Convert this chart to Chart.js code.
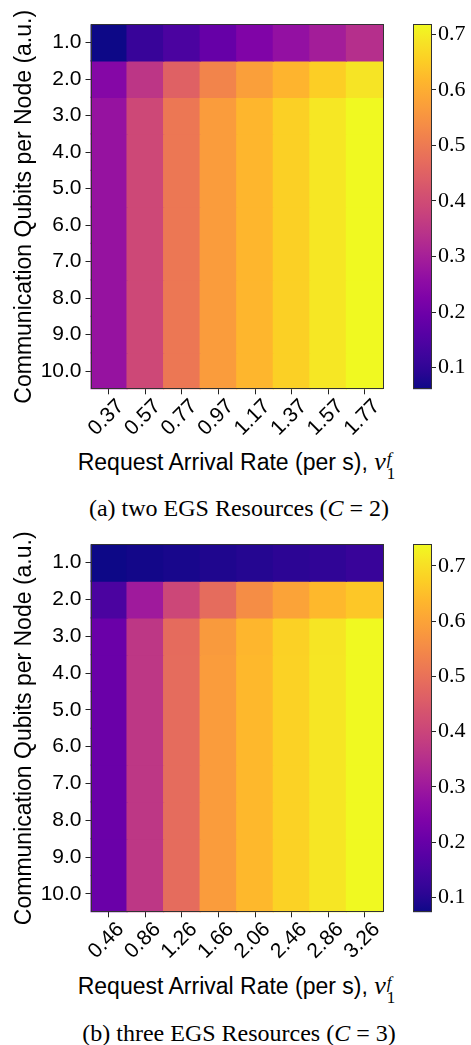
<!DOCTYPE html>
<html><head><meta charset="utf-8">
<script src="https://cdn.jsdelivr.net/npm/chart.js@4.4.1/dist/chart.umd.min.js"></script>
<style>
html,body{margin:0;padding:0;background:#fff;width:471px;height:1045px;overflow:hidden;position:relative}
canvas{position:absolute}
.xtitle{position:absolute;left:0;width:473px;text-align:center;font-family:'Liberation Sans',sans-serif;font-size:23px;line-height:28px;color:#000;white-space:nowrap}
.nu{font-family:'Liberation Serif',serif;font-style:italic;font-size:26px}
.ss{display:inline-block;vertical-align:-0.5em;line-height:0.85;font-family:'Liberation Serif',serif;font-size:17px;text-align:left;margin-left:1px}
.ss span{display:block}
.cap{position:absolute;left:0;width:478px;text-align:center;font-family:'Liberation Serif',serif;font-size:24px;line-height:28px;color:#000;white-space:nowrap}
</style></head><body>
<canvas id="h1" width="400" height="445" style="left:0;top:0"></canvas>
<canvas id="c1" width="71" height="445" style="left:400px;top:0"></canvas>
<div class="xtitle" style="top:448px">Request Arrival Rate (per s), <span class="nu">ν</span><span class="ss"><span><i>f</i></span><span>1</span></span></div>
<div class="cap" style="top:494px">(a) two EGS Resources (<i>C</i>&#8197;=&#8197;2)</div>
<canvas id="h2" width="400" height="445" style="left:0;top:520px"></canvas>
<canvas id="c2" width="71" height="445" style="left:400px;top:520px"></canvas>
<div class="xtitle" style="top:972px">Request Arrival Rate (per s), <span class="nu">ν</span><span class="ss"><span><i>f</i></span><span>1</span></span></div>
<div class="cap" style="top:1019px">(b) three EGS Resources (<i>C</i>&#8197;=&#8197;3)</div>
<script>
// ---------- data ----------
const yLabels = ['1.0','2.0','3.0','4.0','5.0','6.0','7.0','8.0','9.0','10.0'];
const cbTicks = [0.1,0.2,0.3,0.4,0.5,0.6,0.7];

// (a) C = 2
const xLabelsA = ['0.37','0.57','0.77','0.97','1.17','1.37','1.57','1.77'];
const a_q1  = [0.061,0.112,0.143,0.186,0.230,0.266,0.296,0.334];
const a_q2  = [0.238,0.350,0.449,0.521,0.573,0.613,0.652,0.688];
const a_q3  = [0.271,0.393,0.495,0.567,0.616,0.656,0.692,0.718];
const a_q4  = [0.271,0.393,0.495,0.567,0.616,0.656,0.692,0.718];
const a_q5  = [0.271,0.393,0.495,0.567,0.616,0.656,0.692,0.718];
const a_q6  = [0.271,0.393,0.495,0.567,0.616,0.656,0.692,0.718];
const a_q7  = [0.271,0.393,0.495,0.567,0.616,0.656,0.692,0.718];
const a_q8  = [0.271,0.393,0.495,0.567,0.616,0.656,0.692,0.718];
const a_q9  = [0.271,0.393,0.495,0.567,0.616,0.656,0.692,0.718];
const a_q10 = [0.271,0.393,0.495,0.567,0.616,0.656,0.692,0.718];

// (b) C = 3
const xLabelsB = ['0.46','0.86','1.26','1.66','2.06','2.46','2.86','3.26'];
const b_q1  = [0.073,0.079,0.085,0.092,0.099,0.106,0.113,0.126];
const b_q2  = [0.156,0.303,0.406,0.489,0.556,0.599,0.639,0.662];
const b_q3  = [0.206,0.369,0.487,0.583,0.636,0.677,0.710,0.739];
const b_q4  = [0.206,0.369,0.489,0.586,0.639,0.679,0.712,0.739];
const b_q5  = [0.206,0.369,0.489,0.586,0.639,0.679,0.712,0.739];
const b_q6  = [0.206,0.369,0.489,0.586,0.639,0.679,0.712,0.739];
const b_q7  = [0.206,0.369,0.489,0.586,0.639,0.679,0.712,0.739];
const b_q8  = [0.206,0.369,0.489,0.586,0.639,0.679,0.712,0.739];
const b_q9  = [0.206,0.369,0.489,0.586,0.639,0.679,0.712,0.739];
const b_q10 = [0.206,0.369,0.489,0.586,0.639,0.679,0.712,0.739];

const rowsA = [a_q1,a_q2,a_q3,a_q4,a_q5,a_q6,a_q7,a_q8,a_q9,a_q10];
const rowsB = [b_q1,b_q2,b_q3,b_q4,b_q5,b_q6,b_q7,b_q8,b_q9,b_q10];

// ---------- plasma colormap ----------
const PLASMA = ['#0d0887','#2c0594','#41049d','#5601a4','#6a00a8','#7e03a8','#8f0da4','#a11b9b','#b12a90','#bf3984','#cc4778','#d6556d','#e16462','#ea7457','#f2844b','#f89540','#fca636','#feb82c','#fcce25','#f7e225','#f0f921'];
function hex(h){return [parseInt(h.slice(1,3),16),parseInt(h.slice(3,5),16),parseInt(h.slice(5,7),16)];}
const PL = PLASMA.map(hex);
function plasma(t){
  t = Math.max(0, Math.min(1, t));
  const f = t*(PL.length-1), i = Math.min(PL.length-2, Math.floor(f)), r = f-i;
  const c = PL[i].map((v,k)=>Math.round(v+(PL[i+1][k]-v)*r));
  return `rgb(${c[0]},${c[1]},${c[2]})`;
}

const frame = { id:'frame', afterDatasetsDraw(chart){
  const {ctx, chartArea:a} = chart; ctx.save(); ctx.strokeStyle='#333'; ctx.lineWidth=1;
  ctx.strokeRect(Math.round(a.left)+0.5, Math.round(a.top)+0.5, Math.round(a.right-a.left)-1, Math.round(a.bottom-a.top)-1); ctx.restore(); } };

const yVals = yLabels.map(Number);

function heatmap(id, xLabels, rows, vmin, vmax, padTop, xAxisH){
  const datasets = rows.map((row, i) => ({
    data: row.map(() => [yVals[i]-0.5, yVals[i]+0.5]),
    backgroundColor: row.map(v => plasma((v-vmin)/(vmax-vmin))),
    borderWidth: 0, grouped:false, barPercentage:1, categoryPercentage:1, inflateAmount:0.6
  }));
  new Chart(document.getElementById(id), {
    type:'bar',
    data:{labels:xLabels, datasets},
    options:{
      responsive:false, animation:false,
      layout:{padding:{top:padTop, right:17, left:0, bottom:0}},
      plugins:{legend:{display:false}, tooltip:{enabled:false}},
      scales:{
        x:{ offset:true,
          grid:{offset:false, drawOnChartArea:false, tickLength:5, color:'#222'},
          border:{display:false},
          ticks:{color:'#000', font:{family:'Liberation Sans', size:21}, maxRotation:45, minRotation:45, autoSkip:false, labelOffset:12, padding:0},
          afterFit: s => { s.height = xAxisH; }
        },
        y:{ type:'linear', reverse:true, min:0.5, max:10.5,
          afterBuildTicks: s => { s.ticks = yVals.map(v => ({value:v})); },
          grid:{drawOnChartArea:false, tickLength:5, color:'#222'},
          border:{display:false},
          ticks:{color:'#000', font:{family:'Liberation Sans', size:21}, padding:4, callback:(v,i)=>yLabels[i]},
          title:{display:true, text:'Communication Qubits per Node (a.u.)', color:'#000', font:{family:'Liberation Sans', size:23}, padding:{top:11,bottom:0}},
          afterFit: s => { s.width = 90.5; }
        }
      }
    },
    plugins:[frame]
  });
}

function colorbar(id, vmin, vmax, padTop, padBottom){
  new Chart(document.getElementById(id), {
    type:'bar',
    data:{labels:[''], datasets:[{
      data:[[vmin, vmax]],
      backgroundColor: c => { const ch = c.chart, a = ch.chartArea; if(!a) return '#888';
        const g = ch.ctx.createLinearGradient(0, a.bottom, 0, a.top);
        for(let i=0;i<=40;i++) g.addColorStop(i/40, plasma(i/40)); return g; },
      borderWidth:0, barPercentage:1, categoryPercentage:1
    }]},
    options:{
      responsive:false, animation:false,
      layout:{padding:{top:padTop, bottom:padBottom, left:13, right:0}},
      plugins:{legend:{display:false}, tooltip:{enabled:false}},
      scales:{
        x:{display:false},
        y:{position:'right', min:vmin, max:vmax,
          afterBuildTicks: s => { s.ticks = cbTicks.map(v => ({value:v})); },
          ticks:{color:'#000', font:{family:'Liberation Serif', size:22}, padding:2, callback:v=>v.toFixed(1)},
          grid:{drawOnChartArea:false, tickLength:4, color:'#222'},
          border:{display:false},
          afterFit: s => { s.width = 39; }
        }
      }
    },
    plugins:[frame]
  });
}

const minOf = rows => Math.min(...rows.flat()), maxOf = rows => Math.max(...rows.flat());
const aMin = minOf(rowsA), aMax = maxOf(rowsA), bMin = minOf(rowsB), bMax = maxOf(rowsB);
heatmap('h1', xLabelsA, rowsA, aMin, aMax, 24.3, 55.7);
colorbar('c1', aMin, aMax, 24.3, 55.7);
heatmap('h2', xLabelsB, rowsB, bMin, bMax, 24.3, 52.7);
colorbar('c2', bMin, bMax, 24.3, 52.7);
</script>
</body></html>
